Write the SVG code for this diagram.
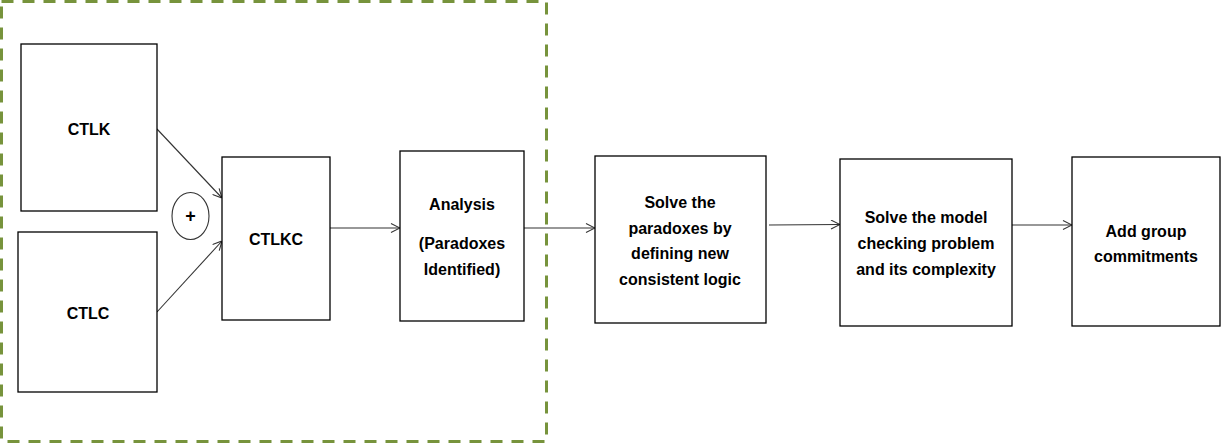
<svg xmlns="http://www.w3.org/2000/svg" width="1221" height="443" viewBox="0 0 1221 443">
<style>
.box{fill:#fff;stroke:#000;stroke-width:1.3}
.t{font-family:"Liberation Sans",Arial,sans-serif;font-weight:bold;font-size:16px;text-anchor:middle;dominant-baseline:central;fill:#000}
.c{stroke:#333;stroke-width:1.1;fill:none;marker-end:url(#arr)}
</style>
<defs>
<marker id="arr" viewBox="0 0 10 10" refX="10" refY="5" markerWidth="10" markerHeight="10" markerUnits="userSpaceOnUse" orient="auto">
<path d="M1,0.5 L10,5 L1,9.5" fill="none" stroke="#333" stroke-width="1.1"/>
</marker>
</defs>
<rect id="group-frame" x="1.5" y="1.5" width="545" height="440" fill="none" stroke="#77933C" stroke-width="3" stroke-dasharray="12 9"/>
<g id="connectors">
<line class="c" x1="157" y1="129" x2="222" y2="198"/>
<line class="c" x1="157" y1="312" x2="222" y2="241"/>
<line class="c" x1="330" y1="228" x2="400" y2="228"/>
<line class="c" x1="524" y1="228" x2="595" y2="228"/>
<line class="c" x1="769" y1="225" x2="840" y2="224.5"/>
<line class="c" x1="1012" y1="225" x2="1072" y2="225"/>
</g>
<g id="ctlk"><rect class="box" x="21" y="44" width="136" height="167"/><text class="t" x="89" y="129">CTLK</text></g>
<g id="ctlc"><rect class="box" x="18" y="232" width="139" height="160"/><text class="t" x="88" y="313">CTLC</text></g>
<g id="plus"><ellipse cx="190.5" cy="216" rx="18.5" ry="23.5" fill="#fff" stroke="#333" stroke-width="1.1"/><text class="t" x="190.5" y="216" style="font-size:18px">+</text></g>
<g id="ctlkc"><rect class="box" x="222" y="157" width="108" height="163"/><text class="t" x="276" y="239">CTLKC</text></g>
<g id="analysis"><rect class="box" x="400" y="151" width="124" height="170"/>
<text class="t" x="462" y="204">Analysis</text>
<text class="t" x="462" y="243">(Paradoxes</text>
<text class="t" x="462" y="269">Identified)</text></g>
<g id="solve-paradoxes"><rect class="box" x="595" y="156" width="171" height="167"/>
<text class="t" x="680" y="202">Solve the</text>
<text class="t" x="680" y="228">paradoxes by</text>
<text class="t" x="680" y="253">defining new</text>
<text class="t" x="680" y="279">consistent logic</text></g>
<g id="model-checking"><rect class="box" x="840" y="159" width="172" height="167"/>
<text class="t" x="926" y="217">Solve the model</text>
<text class="t" x="926" y="243">checking problem</text>
<text class="t" x="926" y="269">and its complexity</text></g>
<g id="group-commitments"><rect class="box" x="1072" y="157" width="148" height="169"/>
<text class="t" x="1146" y="231">Add group</text>
<text class="t" x="1146" y="256">commitments</text></g>
</svg>
